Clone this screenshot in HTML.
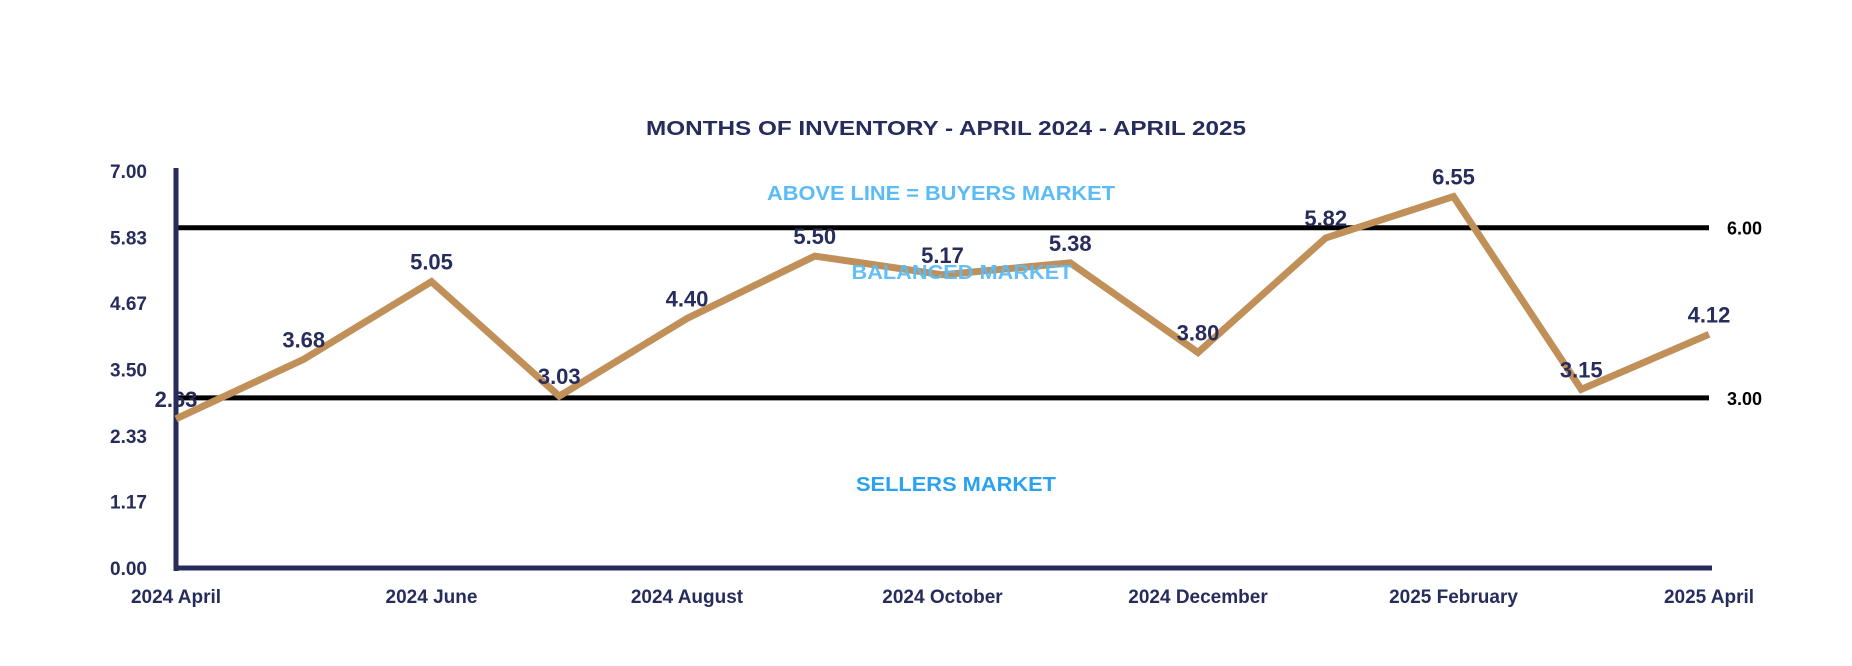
<!DOCTYPE html>
<html><head><meta charset="utf-8"><style>
html,body{margin:0;padding:0;background:#fff;}
svg{display:block;}
text{font-family:"Liberation Sans",Arial,sans-serif;font-weight:bold;}
</style></head><body>
<svg id="chart" width="1852" height="666" viewBox="0 0 1852 666">
<text x="946" y="135" text-anchor="middle" font-size="20" fill="#262c5c" textLength="600" lengthAdjust="spacingAndGlyphs">MONTHS OF INVENTORY - APRIL 2024 - APRIL 2025</text>
<g id="grid"></g>
<text x="941" y="200" text-anchor="middle" font-size="20" fill="#5bbcf5" textLength="348" lengthAdjust="spacingAndGlyphs">ABOVE LINE = BUYERS MARKET</text>
<g id="series"></g>
<text x="962" y="279" text-anchor="middle" font-size="20" fill="#5bbcf5" fill-opacity="0.95" textLength="221" lengthAdjust="spacingAndGlyphs">BALANCED MARKET</text>
<text x="956" y="491" text-anchor="middle" font-size="20" fill="#2aa2f0" textLength="200" lengthAdjust="spacingAndGlyphs">SELLERS MARKET</text>
</svg>
<script>
const categories=["2024 April","2024 May","2024 June","2024 July","2024 August","2024 September","2024 October","2024 November","2024 December","2025 January","2025 February","2025 March","2025 April"];
const values=[2.63,3.68,5.05,3.03,4.40,5.50,5.17,5.38,3.80,5.82,6.55,3.15,4.12];
const yTicks=[0,1.17,2.33,3.50,4.67,5.83,7.00];
const thresholds=[6.00,3.00];
const xLabelIdx=[0,2,4,6,8,10,12];
const NS="http://www.w3.org/2000/svg";
const x0=176,x1=1709,yBase=568,yTop=171,yMax=7;
const X=i=>x0+(x1-x0)*i/(categories.length-1);
const Y=v=>yBase-(yBase-yTop)*v/yMax;
function mk(tag,attrs,parent,txt){const e=document.createElementNS(NS,tag);for(const k in attrs)e.setAttribute(k,attrs[k]);if(txt!==undefined)e.textContent=txt;parent.appendChild(e);return e;}
const g=document.getElementById('grid'),s=document.getElementById('series');
yTicks.forEach(t=>{const e=mk('text',{x:147,y:Y(t)+7,'text-anchor':'end','font-size':19,fill:'#262c5c'},g,t.toFixed(2));

});
thresholds.forEach(t=>{const l=mk('line',{x1:178,x2:1709,y1:Y(t),y2:Y(t),stroke:'#000','stroke-width':5},g);


const tx=mk('text',{x:1727,y:Y(t)+7,'font-size':18,fill:'#000'},g,t.toFixed(2));

});
const ya=mk('line',{x1:176,x2:176,y1:168,y2:571,stroke:'#262c5c','stroke-width':5},g);


const xa=mk('line',{x1:174,x2:1712,y1:568,y2:568,stroke:'#262c5c','stroke-width':5},g);


xLabelIdx.forEach(i=>{const e=mk('text',{x:X(i),y:603,'text-anchor':'middle','font-size':19,fill:'#262c5c'},g,categories[i]);

});
const pl=mk('polyline',{points:values.map((v,i)=>X(i)+','+Y(v)).join(' '),fill:'none',stroke:'#c09058','stroke-width':7,'stroke-linejoin':'miter'},s);


values.forEach((v,i)=>{const e=mk('text',{x:X(i),y:Y(v)-12,'text-anchor':'middle','font-size':22,fill:'#262c5c'},s,v.toFixed(2));

});
</script>
</body></html>
